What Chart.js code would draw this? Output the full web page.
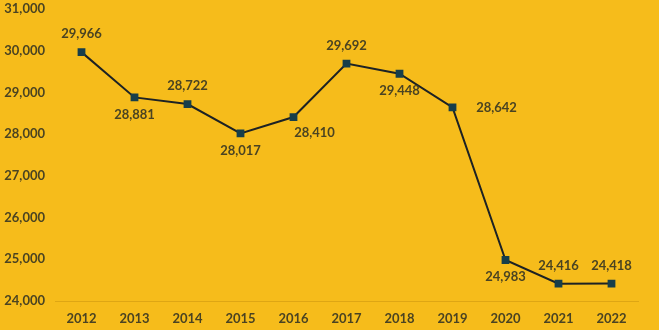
<!DOCTYPE html>
<html><head><meta charset="utf-8">
<script src="https://cdn.jsdelivr.net/npm/chart.js@4"></script>
<style>
html,body{margin:0;padding:0;background:#F6BC1B;}
#wrap{width:659px;height:330px;position:relative;}
</style></head>
<body><div id="wrap"><canvas id="c" width="659" height="330"></canvas></div>
<script>
const categories = ['2012','2013','2014','2015','2016','2017','2018','2019','2020','2021','2022'];
const values = [29966, 28881, 28722, 28017, 28410, 29692, 29448, 28642, 24983, 24416, 24418];
const yTicks = [24000, 25000, 26000, 27000, 28000, 29000, 30000, 31000];

const labelPlacement = ['above','below','above','below','belowRight','above','below','right','below','above','above'];
const textColor = '#4a4322';
const fontFamily = 'Lato, "Open Sans", sans-serif';

const labelPlugin = {
  id: 'pointLabels',
  afterDatasetsDraw(chart) {
    const ctx = chart.ctx;
    const meta = chart.getDatasetMeta(0);
    ctx.save();
    ctx.font = 'bold 13px ' + fontFamily;
    ctx.fillStyle = textColor;
    ctx.textAlign = 'center';
    ctx.textBaseline = 'middle';
    meta.data.forEach((pt, i) => {
      const txt = values[i].toLocaleString('en-US');
      let x = pt.x, y = pt.y;
      switch (labelPlacement[i]) {
        case 'above': y -= 18; break;
        case 'below': y += 17; break;
        case 'right': x += 44; break;
        case 'belowRight': x += 21; y += 16; break;
      }
      ctx.fillText(txt, x, y);
    });
    ctx.restore();
  }
};

new Chart(document.getElementById('c'), {
  type: 'line',
  data: {
    labels: categories,
    datasets: [{
      data: values,
      borderColor: '#1d2224',
      borderWidth: 2,
      pointStyle: 'rect',
      pointRadius: 5.5,
      pointBackgroundColor: '#173e4a',
      pointBorderColor: '#173e4a',
      pointBorderWidth: 0,
      tension: 0,
      fill: false
    }]
  },
  options: {
    responsive: false,
    animation: false,
    devicePixelRatio: 1,
    layout: { padding: { top: 9, right: 21, left: 0, bottom: 0 } },
    plugins: { legend: { display: false }, tooltip: { enabled: false } },
    scales: {
      x: {
        offset: true,
        grid: { display: false, drawTicks: false },
        border: { display: true, color: 'rgba(150,100,0,0.25)', width: 1 },
        ticks: { color: textColor, font: { family: fontFamily, size: 13, weight: 'bold' }, padding: 10, maxRotation: 0 },
        afterFit(s) { s.height = 29; s.paddingLeft = 0; s.paddingRight = 0; }
      },
      y: {
        min: 24000, max: 31000,
        afterBuildTicks(s) { s.ticks = yTicks.map(v => ({ value: v })); },
        grid: { display: false, drawTicks: false },
        border: { display: false },
        ticks: {
          color: textColor,
          font: { family: fontFamily, size: 13, weight: 'bold' },
          padding: 10,
          callback: v => Number(v).toLocaleString('en-US')
        },
        afterFit(s) { s.width = 55; s.paddingTop = 0; s.paddingBottom = 0; }
      }
    }
  },
  plugins: [labelPlugin]
});
</script>
</body></html>
